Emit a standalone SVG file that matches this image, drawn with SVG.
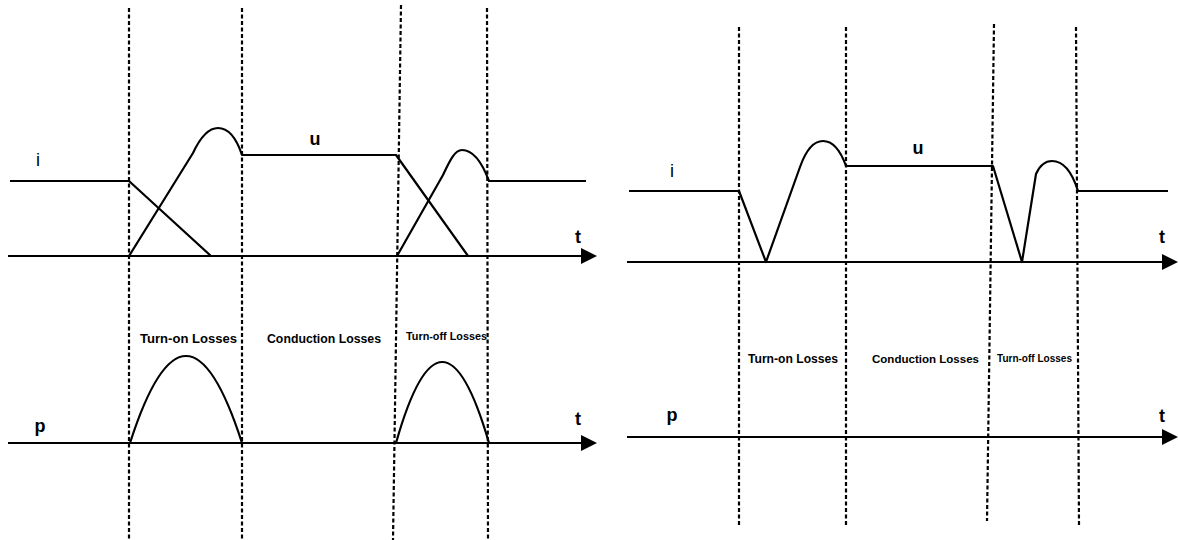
<svg xmlns="http://www.w3.org/2000/svg" width="1178" height="540" viewBox="0 0 1178 540">
<style>
.dash{stroke:#000;stroke-width:2.2;stroke-dasharray:4 2.5;fill:none}
.ln{stroke:#000;stroke-width:2.2;fill:none;stroke-linejoin:round}
.ax{stroke:#000;stroke-width:2.2;fill:none}
.ah{fill:#000}
.lbl{font-family:"Liberation Sans",Arial,sans-serif;font-weight:bold;fill:#000}
.sym{font-family:"Liberation Sans",Arial,sans-serif;font-size:18px;font-weight:bold;fill:#000;text-anchor:middle}
.symr{font-family:"Liberation Sans",Arial,sans-serif;font-size:18px;fill:#000;text-anchor:middle}
</style>
<rect width="1178" height="540" fill="#fff"/>
<g id="dividers">
<line class="dash" x1="129" y1="8" x2="129" y2="540"/>
<line class="dash" x1="242" y1="8" x2="242" y2="540"/>
<line class="dash" x1="401" y1="5" x2="393" y2="540"/>
<line class="dash" x1="487" y1="8" x2="488" y2="540"/>
<line class="dash" x1="739" y1="27" x2="739" y2="527"/>
<line class="dash" x1="846" y1="27" x2="846" y2="527"/>
<line class="dash" x1="994" y1="24" x2="987" y2="521"/>
<line class="dash" x1="1076" y1="27" x2="1079" y2="525"/>
</g>
<g id="axes">
<line class="ax" x1="8" y1="256" x2="583" y2="256"/>
<polygon class="ah" points="581,248 597,256 581,264"/>
<line class="ax" x1="8" y1="443" x2="583" y2="443"/>
<polygon class="ah" points="581,435 597,443 581,451"/>
<line class="ax" x1="627" y1="262" x2="1164" y2="262"/>
<polygon class="ah" points="1162,254 1178,262 1162,270"/>
<line class="ax" x1="627" y1="437" x2="1164" y2="437"/>
<polygon class="ah" points="1162,429 1178,437 1162,445"/>
</g>
<g id="left-waveforms">
<path class="ln" d="M10,181 L129,181 L211,256"/>
<path class="ln" d="M129,256 L193,153 C200,138 208,128 218,128 C230,128 237,140 242,155 L396,155 L468,256"/>
<path class="ln" d="M397,256 L443,175 C450,160 455,150 462,150 C474,150 483,165 489,181 L586,181"/>
<path class="ln" d="M130,443 Q186,269 242,443"/>
<path class="ln" d="M396,443 Q442,281 489,443"/>
</g>
<g id="right-waveforms">
<path class="ln" d="M629,191 L739,191 L766,262 L800,167 C806,150 814,141 823,141 C834,141 841,152 846,166 L993,166 L1022,262 L1036,174 C1040,165 1046,161 1052,161 C1065,161 1073,175 1078,191 L1168,191"/>
</g>
<g id="labels">
<text class="symr" x="38" y="166">i</text>
<text class="sym" x="315" y="145">u</text>
<text class="sym" x="578" y="243">t</text>
<text class="sym" x="40" y="432">p</text>
<text class="sym" x="578" y="425">t</text>
<text class="symr" x="672" y="177">i</text>
<text class="sym" x="918" y="154">u</text>
<text class="sym" x="1162" y="243">t</text>
<text class="sym" x="672" y="421">p</text>
<text class="sym" x="1162" y="422">t</text>
<text class="lbl" x="140" y="343" font-size="13" textLength="97" lengthAdjust="spacingAndGlyphs">Turn-on Losses</text>
<text class="lbl" x="267" y="343" font-size="12.5" textLength="114" lengthAdjust="spacingAndGlyphs">Conduction Losses</text>
<text class="lbl" x="406" y="340" font-size="11" textLength="81" lengthAdjust="spacingAndGlyphs">Turn-off Losses</text>
<text class="lbl" x="748" y="363" font-size="12" textLength="90" lengthAdjust="spacingAndGlyphs">Turn-on Losses</text>
<text class="lbl" x="872" y="363" font-size="11.5" textLength="107" lengthAdjust="spacingAndGlyphs">Conduction Losses</text>
<text class="lbl" x="997" y="362" font-size="10" textLength="75" lengthAdjust="spacingAndGlyphs">Turn-off Losses</text>
</g>
</svg>
